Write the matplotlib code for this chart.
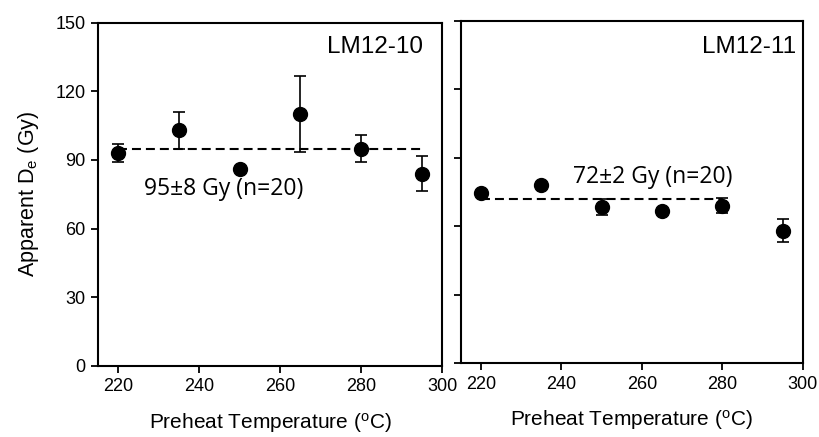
import matplotlib
matplotlib.use("Agg")
import matplotlib.pyplot as plt

plt.rcParams["font.family"] = ["Liberation Sans", "DejaVu Sans"]
plt.rcParams["mathtext.fontset"] = "custom"
plt.rcParams["mathtext.rm"] = "Liberation Sans"
plt.rcParams["mathtext.it"] = "Liberation Sans"

# Preheat temperatures (deg C)
temps = [220, 235, 250, 265, 280, 295]

# Sample LM12-10
de_lm10 = [93, 103, 86, 110, 95, 84]
err_lm10 = [4, 8, 1, 16.5, 6, 7.7]
mean_lm10 = 95
label_lm10 = "95±8 Gy (n=20)"

# Sample LM12-11
de_lm11 = [74.5, 78, 68.5, 66.5, 69, 58]
err_lm11 = [1, 1, 3.5, 1, 3.3, 5]
mean_lm11 = 72
label_lm11 = "72±2 Gy (n=20)"

yticks = [0, 30, 60, 90, 120, 150]
xticks = [220, 240, 260, 280, 300]

fig = plt.figure(figsize=(8.2, 4.37), dpi=100)
ax1 = fig.add_axes([0.1195, 0.163, 0.4195, 0.785])
ax2 = fig.add_axes([0.5618, 0.169, 0.4172, 0.7836])

panels = [
    (ax1, de_lm10, err_lm10, mean_lm10, label_lm10, "LM12-10", 295.3, (220, 295), (226.4, 74.6), 136.7),
    (ax2, de_lm11, err_lm11, mean_lm11, label_lm11, "LM12-11", 298.4, (220, 280), (242.9, 78.7), 135.8),
]

for ax, de, err, mean, mlabel, name, name_x, line_x, mpos, name_y in panels:
    ax.plot(line_x, [mean, mean], color="black", lw=1.5,
            linestyle=(0, (4.3, 2.4)), zorder=2)
    ax.errorbar(temps, de, yerr=err, fmt="o", color="black", ms=10,
                ecolor="black", elinewidth=1.2, capsize=4.5, capthick=1.2, zorder=3)
    ax.set_xlim(215, 300)
    ax.set_ylim(0, 150)
    ax.set_xticks(xticks)
    ax.set_yticks(yticks)
    ax.tick_params(direction="out", length=5, width=1.3, labelsize=13,
                   top=False, right=False, pad=4)
    for sp in ax.spines.values():
        sp.set_linewidth(1.5)
    ax.text(name_x, name_y, name, ha="right", va="baseline", fontsize=17.5)
    ax.text(mpos[0], mpos[1], mlabel, ha="left", va="baseline", fontsize=16.5,
            family=["Open Sans", "DejaVu Sans"])
    ax.set_xlabel(r"Preheat Temperature ($^{\mathrm{o}}$C)", fontsize=15, labelpad=11)

ax2.tick_params(labelleft=False)
ax1.set_ylabel(r"Apparent D$_{\mathrm{e}}$ (Gy)", fontsize=15.5, labelpad=10)

fig.savefig("out.png", dpi=100)
